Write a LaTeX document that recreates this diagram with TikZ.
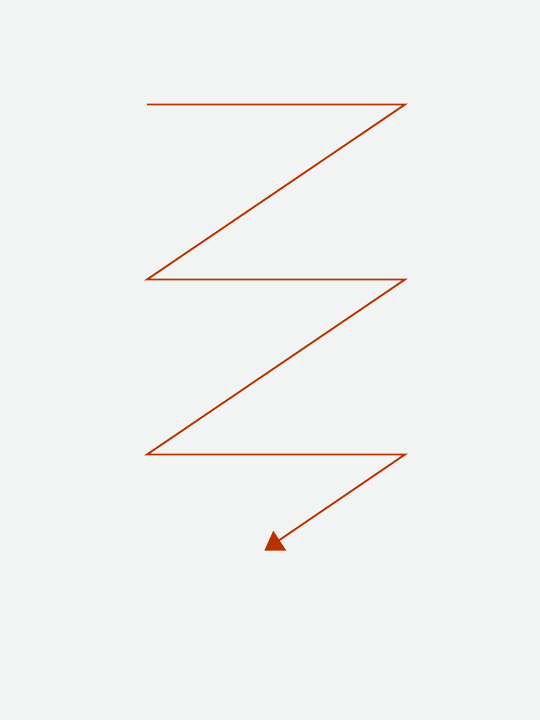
\documentclass[tikz,border=0pt]{standalone}
\definecolor{bgc}{HTML}{F2F4F3}
\definecolor{zig}{HTML}{B83200}
\begin{document}
\begin{tikzpicture}[x=1pt,y=-1pt,
  zigline/.style={draw=zig,line width=1.8pt,line join=miter},
  tip/.style={fill=zig,draw=none}]
\fill[bgc] (0,0) rectangle (540,720);
\useasboundingbox (0,0) rectangle (540,720);
\coordinate (p1) at (147,104.5);
\coordinate (p2) at (405,104.5);
\coordinate (p3) at (147,279.5);
\coordinate (p4) at (405,279.5);
\coordinate (p5) at (147,454.5);
\coordinate (p6) at (405,454.5);
\coordinate (p7) at (276.5,542);
\draw[zigline] (p1) -- (p2) -- (p3) -- (p4) -- (p5) -- (p6) -- (p7);
\fill[tip] (264.3,550.7) -- (273.3,530.7) -- (286.3,550.7) -- cycle;
\end{tikzpicture}
\end{document}
